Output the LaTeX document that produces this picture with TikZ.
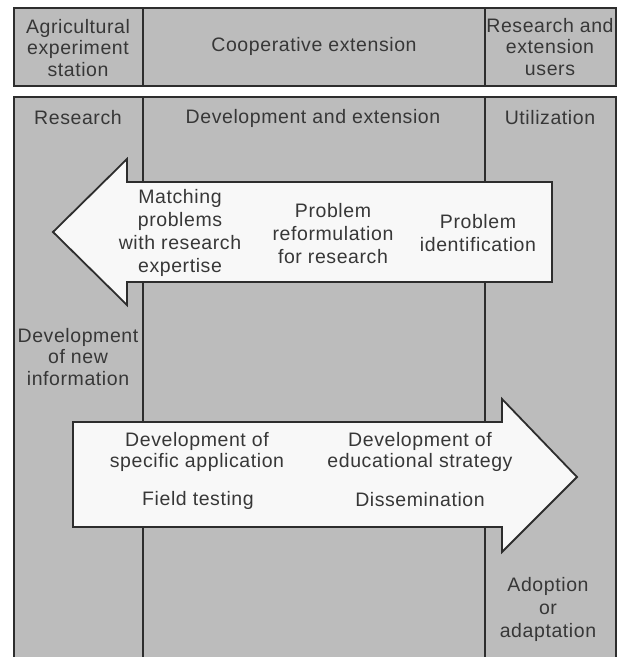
\documentclass[tikz,border=0pt]{standalone}
\usepackage{fontspec}
\newfontfamily\lblfont{Liberation Sans}[LetterSpace=3]
\definecolor{band}{RGB}{188,188,188}
\definecolor{ink}{RGB}{45,45,45}
\definecolor{txt}{RGB}{55,55,55}
\definecolor{arrowfill}{RGB}{248,248,248}
\begin{document}
\begin{tikzpicture}[x=1pt,y=-1pt,
  lbl/.style={font=\lblfont\fontsize{19.5}{21.5}\selectfont, text=txt, align=center, inner sep=0pt},
  lblw/.style={lbl, font=\lblfont\fontsize{19.5}{23}\selectfont},
  frame/.style={draw=ink, line width=1.8pt},
  bigarrow/.style={draw=ink, line width=1.8pt, fill=arrowfill, line join=miter}]
\useasboundingbox (0,0) rectangle (618,657);
\fill[white] (0,0) rectangle (618,657);
% top band
\fill[band] (14,8) rectangle (616,86);
\draw[frame] (14,8) rectangle (616,86);
\draw[frame] (143,8) -- (143,86) (485,8) -- (485,86);
% bottom band
\fill[band] (14,97) rectangle (616,657);
\draw[frame] (14,657) -- (14,97) -- (616,97) -- (616,657);
\draw[frame] (143,97) -- (143,657) (485,97) -- (485,657);
% arrows
\draw[bigarrow] (53,232) -- (127,159) -- (127,182) -- (552,182) -- (552,282) -- (127,282) -- (127,305) -- cycle;
\draw[bigarrow] (73,422) -- (502,422) -- (502,399) -- (577,477) -- (502,552) -- (502,527) -- (73,527) -- cycle;
% headers
\node[lbl] (aes) at (78,48) {Agricultural\\experiment\\station};
\node[lbl] (coop) at (314,46) {Cooperative extension};
\node[lbl] (users) at (550,47) {Research and\\extension\\users};
\node[lbl] (res) at (78,118) {Research};
\node[lbl] (dev) at (313,118) {Development and extension};
\node[lbl] (util) at (550,118) {Utilization};
% upper arrow texts
\node[lblw] (match) at (180,233) {Matching\\problems\\with research\\expertise};
\node[lblw] (reform) at (333,234) {Problem\\reformulation\\for research};
\node[lblw] (ident) at (478,233) {Problem\\identification};
% left column
\node[lbl] (newinfo) at (78,357) {Development\\of new\\information};
% lower arrow texts
\node[lbl] (spec) at (197,452) {Development of\\specific application};
\node[lbl] (edu) at (420,452) {Development of\\educational strategy};
\node[lbl] (field) at (198,500) {Field testing};
\node[lbl] (diss) at (420,500) {Dissemination};
% right column
\node[lblw] (adopt) at (548,609) {Adoption\\or\\adaptation};
\end{tikzpicture}
\end{document}
